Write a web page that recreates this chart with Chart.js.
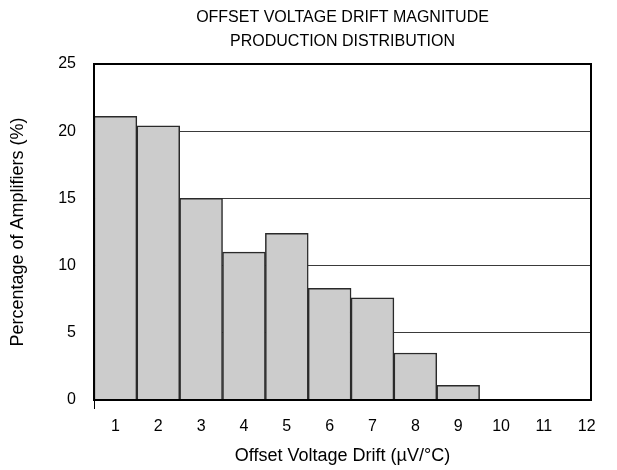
<!DOCTYPE html>
<html>
<head>
<meta charset="utf-8">
<script src="https://cdn.jsdelivr.net/npm/chart.js@4.4.1/dist/chart.umd.min.js"></script>
<style>
  html, body { margin: 0; padding: 0; background: #ffffff; }
  #wrap { width: 617px; height: 470px; }
</style>
</head>
<body>
<div id="wrap"><canvas id="c" width="617" height="470"></canvas></div>
<script>
const categories = [1, 2, 3, 4, 5, 6, 7, 8, 9, 10, 11, 12];
const percentages = [21.1, 20.4, 15.0, 11.0, 12.4, 8.3, 7.6, 3.5, 1.1, 0, 0, 0];
const xTickLabels = [1, 2, 3, 4, 5, 6, 7, 8, 9, 10, 11, 12];
const yTickLabels = [0, 5, 10, 15, 20, 25];
const titleLines = ['OFFSET VOLTAGE DRIFT MAGNITUDE', 'PRODUCTION DISTRIBUTION'];
const xTitle = 'Offset Voltage Drift (\u00B5V/\u00B0C)';
const yTitle = 'Percentage of Amplifiers (%)';

const FONT = 'Liberation Sans, Arial, Helvetica, sans-serif';

const framePlugin = {
  id: 'frame',
  afterDatasetsDraw(chart) {
    const a = chart.chartArea;
    const ctx = chart.ctx;
    ctx.save();
    ctx.strokeStyle = '#000000';
    ctx.lineWidth = 2;
    ctx.strokeRect(a.left, a.top, a.right - a.left, a.bottom - a.top);
    // small tick mark at the left end of the x axis
    ctx.lineWidth = 1;
    ctx.beginPath();
    ctx.moveTo(a.left + 0.5, a.bottom);
    ctx.lineTo(a.left + 0.5, a.bottom + 9);
    ctx.stroke();
    ctx.restore();
  }
};

new Chart(document.getElementById('c'), {
  type: 'bar',
  data: {
    datasets: [{
      data: categories.map((c, i) => ({ x: c, y: percentages[i] })),
      backgroundColor: '#cccccc',
      borderColor: '#2a2a2a',
      borderWidth: 1.5,
      borderSkipped: 'bottom',
      barPercentage: 1,
      categoryPercentage: 1
    }]
  },
  options: {
    responsive: false,
    animation: false,
    events: [],
    layout: { padding: { left: 0, right: 26, top: 0, bottom: 0 } },
    plugins: {
      legend: { display: false },
      tooltip: { enabled: false },
      title: {
        display: true,
        fullSize: false,
        text: titleLines,
        color: '#000000',
        font: { family: FONT, size: 16, weight: 'normal', lineHeight: 1.5 },
        padding: { top: 6, bottom: 10 }
      }
    },
    scales: {
      x: {
        type: 'linear',
        offset: false,
        min: 0.5,
        max: 12.1,
        afterBuildTicks(scale) {
          scale.ticks = xTickLabels.map(v => ({ value: v }));
        },
        afterFit(scale) { scale.height = 70; },
        ticks: {
          color: '#000000',
          font: { family: FONT, size: 16 },
          padding: 17,
          maxRotation: 0,
          autoSkip: false
        },
        grid: { display: false, drawTicks: false },
        border: { display: false },
        title: {
          display: true,
          text: xTitle,
          color: '#000000',
          font: { family: FONT, size: 18 },
          padding: { top: 0, bottom: 3 }
        }
      },
      y: {
        min: 0,
        max: 25,
        afterBuildTicks(scale) {
          scale.ticks = yTickLabels.map(v => ({ value: v }));
        },
        afterFit(scale) { scale.width = 94; },
        ticks: {
          color: '#000000',
          font: { family: FONT, size: 16 },
          padding: 18
        },
        grid: {
          drawTicks: false,
          lineWidth: 1,
          color: (ctx) => (ctx.tick && (ctx.tick.value === 0 || ctx.tick.value === 25) ? 'rgba(0,0,0,0)' : '#3a3a3a')
        },
        border: { display: false },
        title: {
          display: true,
          text: yTitle,
          color: '#000000',
          font: { family: FONT, size: 18 },
          padding: { top: 7, bottom: 0 }
        }
      }
    }
  },
  plugins: [framePlugin]
});
</script>
</body>
</html>
